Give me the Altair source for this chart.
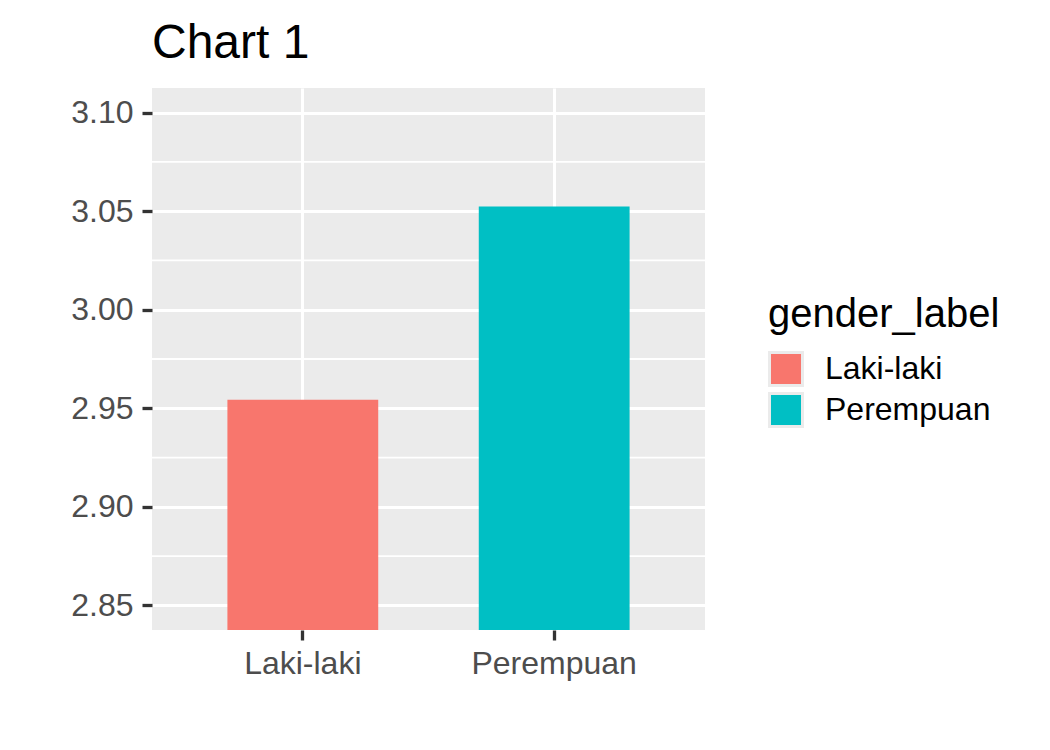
import altair as alt
import pandas as pd

genders = ["Laki-laki", "Perempuan"]
mean_values = [2.9543, 3.0524]
colors = ["#F8766D", "#00BFC4"]
y_ticks = [2.85, 2.90, 2.95, 3.00, 3.05, 3.10]
minor_breaks = [2.875, 2.925, 2.975, 3.025, 3.075]
y_domain = [2.8375, 3.1125]

df = pd.DataFrame({"gender_label": genders, "mean": mean_values})
minor_df = pd.DataFrame({"v": minor_breaks})

FONT = "Liberation Sans"

yscale = alt.Scale(domain=y_domain, zero=False, nice=False)


def y_axis():
    return alt.Axis(
        values=y_ticks,
        format=".2f",
        labelFontSize=32,
        labelColor="#4D4D4D",
        labelPadding=9,
        tickSize=10,
        tickWidth=3.3,
        tickColor="#333333",
        domain=False,
        grid=True,
        gridColor="white",
        gridWidth=3,
        title=None,
    )


minor = alt.Chart(minor_df).mark_rule(color="white", strokeWidth=1.8).encode(
    y=alt.Y("v:Q", scale=yscale, title=None, axis=y_axis())
)

bars = alt.Chart(df).mark_bar(clip=True).encode(
    x=alt.X(
        "gender_label:N",
        sort=genders,
        title=None,
        scale=alt.Scale(paddingInner=0.4, paddingOuter=0.3),
        axis=alt.Axis(
            labelAngle=0,
            labelFontSize=32,
            labelColor="#4D4D4D",
            labelPadding=8,
            tickSize=10,
            tickWidth=3.3,
            tickColor="#333333",
            domain=False,
            grid=True,
            gridColor="white",
            gridWidth=3,
            bandPosition=0.5,
        ),
    ),
    y=alt.Y("mean:Q", scale=yscale, title=None, axis=y_axis()),
    color=alt.Color(
        "gender_label:N",
        scale=alt.Scale(domain=genders, range=colors),
        legend=alt.Legend(
            title="gender_label",
            orient="none",
            legendX=616,
            legendY=207,
            padding=0,
            titleFontSize=40,
            titleColor="black",
            titleFontWeight="normal",
            titleFont=FONT,
            titlePadding=16,
            titleLimit=500,
            labelFontSize=32,
            labelColor="black",
            labelFont=FONT,
            labelOffset=21,
            labelLimit=500,
            symbolType="square",
            symbolSize=1089,
            symbolStrokeColor="#EBEBEB",
            symbolStrokeWidth=3,
            symbolOpacity=1,
            rowPadding=-11,
        ),
    ),
)

chart = (
    alt.layer(minor, bars)
    .properties(
        width=553,
        height=542,
        title=alt.Title(
            "Chart 1",
            fontSize=48,
            font=FONT,
            fontWeight="normal",
            color="black",
            anchor="start",
            frame="group",
            offset=20,
            dy=48,
            baseline="bottom",
        ),
        autosize="none",
        padding={"left": 144, "top": 80, "right": 337, "bottom": 112},
    )
    .configure(font=FONT)
    .configure_view(fill="#EBEBEB", stroke=None)
)

chart.save("out.html", embed_options={"renderer": "svg", "actions": False})
